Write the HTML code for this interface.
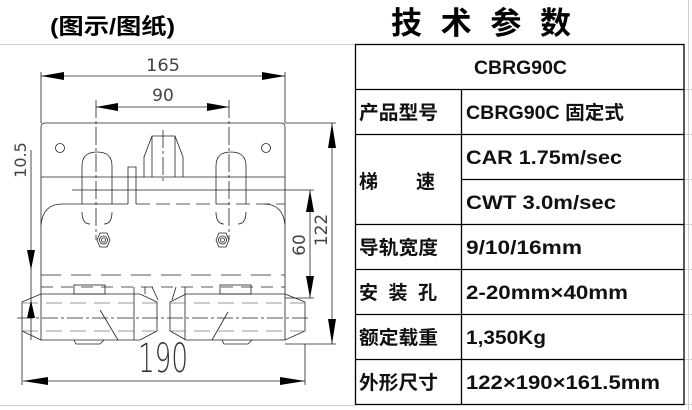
<!DOCTYPE html>
<html><head><meta charset="utf-8"><style>
body{margin:0;width:692px;height:410px;background:#fff;overflow:hidden;font-family:"Liberation Sans","Noto Sans CJK SC",sans-serif}
svg{position:absolute;left:0;top:0}
</style></head><body>
<svg width="692" height="410" viewBox="0 0 692 410" xmlns="http://www.w3.org/2000/svg">
<g stroke="#cfcfcf" stroke-width="1">
<line x1="0" y1="44.5" x2="355" y2="44.5"/>
<line x1="0" y1="405.5" x2="355" y2="405.5"/>
<line x1="688.5" y1="0" x2="688.5" y2="410"/>
<line x1="684" y1="89.5" x2="692" y2="89.5"/><line x1="684" y1="134.5" x2="692" y2="134.5"/>
<line x1="684" y1="179.5" x2="692" y2="179.5"/><line x1="684" y1="224.5" x2="692" y2="224.5"/>
<line x1="684" y1="269.5" x2="692" y2="269.5"/><line x1="684" y1="314.5" x2="692" y2="314.5"/>
<line x1="684" y1="359.5" x2="692" y2="359.5"/><line x1="684" y1="404.5" x2="692" y2="404.5"/>
</g>
<text x="50" y="34" font-size="22" font-weight="bold" textLength="125" lengthAdjust="spacingAndGlyphs" font-family="Liberation Sans,Noto Sans CJK SC,sans-serif">(图示/图纸)</text>
<text x="391" y="34" font-size="31" font-weight="bold" font-family="Liberation Sans,Noto Sans CJK SC,sans-serif" textLength="180" lengthAdjust="spacing">技术参数</text>

<g stroke="#000" stroke-width="1.3" fill="none">
<rect x="355.5" y="44.5" width="328.5" height="360"/>
<line x1="355" y1="89.5" x2="684" y2="89.5"/>
<line x1="355" y1="134.5" x2="684" y2="134.5"/>
<line x1="461" y1="179.5" x2="684" y2="179.5"/>
<line x1="355" y1="224.5" x2="684" y2="224.5"/>
<line x1="355" y1="269.5" x2="684" y2="269.5"/>
<line x1="355" y1="314.5" x2="684" y2="314.5"/>
<line x1="355" y1="359.5" x2="684" y2="359.5"/>
<line x1="461.5" y1="89" x2="461.5" y2="405"/>
</g>
<g font-size="19" font-weight="bold" fill="#111" font-family="Liberation Sans,Noto Sans CJK SC,sans-serif" lengthAdjust="spacingAndGlyphs">
<text x="474" y="74" textLength="93" lengthAdjust="spacingAndGlyphs">CBRG90C</text>
<text x="359" y="119" textLength="79" lengthAdjust="spacingAndGlyphs">产品型号</text><text x="466" y="119" textLength="158" lengthAdjust="spacingAndGlyphs">CBRG90C 固定式</text>
<text x="359" y="188">梯</text><text x="416" y="188">速</text>
<text x="466" y="164" textLength="156" lengthAdjust="spacingAndGlyphs">CAR  1.75m/sec</text>
<text x="466" y="209" textLength="150" lengthAdjust="spacingAndGlyphs">CWT  3.0m/sec</text>
<text x="359" y="254" textLength="79" lengthAdjust="spacingAndGlyphs">导轨宽度</text><text x="466" y="254" textLength="116" lengthAdjust="spacingAndGlyphs">9/10/16mm</text>
<text x="359" y="299" textLength="78" lengthAdjust="spacing">安装孔</text><text x="466" y="299" textLength="162" lengthAdjust="spacingAndGlyphs">2-20mm×40mm</text>
<text x="359" y="344" textLength="79" lengthAdjust="spacingAndGlyphs">额定载重</text><text x="466" y="344" textLength="80" lengthAdjust="spacingAndGlyphs">1,350Kg</text>
<text x="359" y="389" textLength="79" lengthAdjust="spacingAndGlyphs">外形尺寸</text><text x="466" y="389" textLength="194" lengthAdjust="spacingAndGlyphs">122×190×161.5mm</text>
</g>

<g stroke="#222" stroke-width="0.8" fill="none">
<path d="M41,340 L41,127 Q41,123 45,123 L281,123 Q285,123 285,127 L285,340"/>
<line x1="41" y1="177" x2="285" y2="177"/>
<circle cx="60" cy="148" r="4.5"/><circle cx="266" cy="148" r="4.5"/>
<path d="M144,177 L144,157 L152,136 L175,136 L183,157 L183,177"/>
<line x1="152" y1="136" x2="152" y2="177"/><line x1="175" y1="136" x2="175" y2="177"/>
<path d="M128,204 L128,167 L136,167 L136,204"/>
<line x1="72" y1="190" x2="314" y2="190"/>
<line x1="136" y1="204" x2="285" y2="204" stroke-dasharray="14,6"/>
<path d="M41,225 Q43,204 62,204 L128,204"/>
<path d="M285,225 Q283,204 264,204"/>
<path d="M82,204 L82,166 Q82,152 97,152 Q112,152 112,166 L112,204" />
<path d="M82,212 Q82,224 90,224 M112,212 Q112,224 104,224"/>
<path d="M216,204 L216,166 Q216,152 231,152 Q246,152 246,166 L246,204"/>
<path d="M216,212 Q216,224 224,224 M246,212 Q246,224 238,224"/>
<polygon points="97,240 100,233 107,233 110,240 107,247 100,247"/><circle cx="103.5" cy="240" r="4"/><circle cx="103.5" cy="240" r="2"/>
<polygon points="216,240 219,233 226,233 229,240 226,247 219,247"/><circle cx="222.5" cy="240" r="4"/><circle cx="222.5" cy="240" r="2"/>
<line x1="41" y1="275" x2="285" y2="275" stroke-dasharray="20,10"/>
<line x1="41" y1="287" x2="285" y2="287" stroke-dasharray="12,8"/>
<rect x="74" y="285" width="31" height="9"/><rect x="220" y="285" width="31" height="9"/>
<line x1="134" y1="287" x2="134" y2="340"/><line x1="145" y1="287" x2="145" y2="294"/>
<line x1="152" y1="287" x2="158" y2="300"/><line x1="176" y1="287" x2="172" y2="300"/>
<line x1="185" y1="287" x2="185" y2="340"/>
<polygon points="22,302 41,294 140,294 157,302 157,331 140,340 41,340 22,331"/>
<polygon points="170,302 186,294 285,294 305,302 305,331 285,340 186,340 170,331"/>
<line x1="100" y1="310" x2="118" y2="340"/><line x1="212" y1="340" x2="228" y2="312"/>
<line x1="22" y1="303" x2="157" y2="303" stroke-dasharray="16,8" stroke="#777"/>
<line x1="22" y1="331" x2="157" y2="331" stroke-dasharray="16,8" stroke="#777"/>
<line x1="170" y1="303" x2="305" y2="303" stroke-dasharray="16,8" stroke="#777"/>
<line x1="170" y1="331" x2="305" y2="331" stroke-dasharray="16,8" stroke="#777"/>
<line x1="17" y1="318" x2="308" y2="318" stroke-dasharray="16,3,3,3"/>
<path d="M74,340 L76,344 L100,344 L104,340 M222,340 L224,344 L248,344 L252,340"/>
<line x1="96" y1="100" x2="96" y2="240" stroke-dasharray="18,3,3,3"/>
<line x1="229" y1="100" x2="229" y2="240" stroke-dasharray="18,3,3,3"/>
<line x1="163" y1="130" x2="163" y2="182" stroke-dasharray="18,3,3,3"/>
<line x1="41" y1="72" x2="41" y2="123"/><line x1="285" y1="72" x2="285" y2="123"/>
<line x1="41" y1="76" x2="285" y2="76"/>
<line x1="96" y1="107" x2="229" y2="107"/>
<line x1="285" y1="123" x2="336" y2="123"/>
<line x1="285" y1="344" x2="336" y2="344"/>
<line x1="332" y1="123" x2="332" y2="344"/>
<line x1="285" y1="298" x2="314" y2="298"/>
<line x1="310" y1="190" x2="310" y2="298"/>
<line x1="31" y1="150" x2="31" y2="340"/>
<line x1="22" y1="331" x2="22" y2="385"/><line x1="305" y1="344" x2="305" y2="385"/>
<line x1="23" y1="381" x2="305" y2="381"/>
</g>
<g fill="#000">
<polygon points="41,76 64,72 64,80"/><polygon points="285,76 262,72 262,80"/>
<polygon points="96,107 118,103 118,111"/><polygon points="229,107 207,103 207,111"/>
<polygon points="332,123 328,148 336,148"/><polygon points="332,344 328,319 336,319"/>
<polygon points="310,190 306,212 314,212"/><polygon points="310,298 306,276 314,276"/>
<polygon points="31,270 27,250 35,250"/><polygon points="31,300 27,318 35,318"/>
<polygon points="23,381 48,377 48,385"/><polygon points="305,381 280,377 280,385"/>
</g>
<g fill="#444" font-family="DejaVu Sans,sans-serif" font-weight="normal">
<text x="163" y="71" font-size="17" text-anchor="middle" textLength="34" lengthAdjust="spacingAndGlyphs">165</text>
<text x="163" y="101" font-size="17" text-anchor="middle">90</text>
<text x="163" y="372" font-size="40" text-anchor="middle" font-weight="200" fill="#333" textLength="50" lengthAdjust="spacingAndGlyphs">190</text>
<text transform="translate(26,160) rotate(-90)" font-size="16" text-anchor="middle">10.5</text>
<text transform="translate(305,245) rotate(-90)" font-size="17" text-anchor="middle">60</text>
<text transform="translate(327,230) rotate(-90)" font-size="17" text-anchor="middle">122</text>
</g>
</svg>
</body></html>
